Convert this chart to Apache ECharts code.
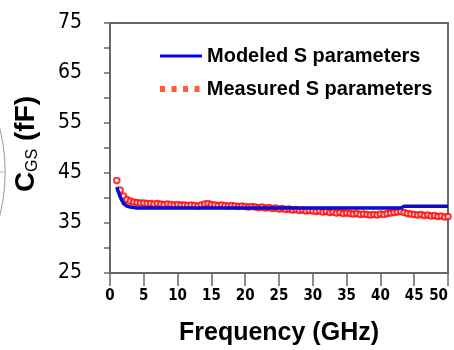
<!DOCTYPE html>
<html>
<head>
<meta charset="utf-8">
<script src="https://cdn.jsdelivr.net/npm/echarts@6/dist/echarts.min.js"></script>
<style>
  html, body { margin: 0; padding: 0; background: #ffffff; }
  #chart { width: 454px; height: 350px; }
</style>
</head>
<body>
<div id="chart"></div>
<script>
// Frequency points (GHz)
const freqGHz = [
  1, 1.5, 2, 2.5, 3, 3.5, 4, 4.5, 5, 5.5, 6, 6.5, 7, 7.5, 8, 8.5, 9, 9.5, 10, 10.5,
  11, 11.5, 12, 12.5, 13, 13.5, 14, 14.5, 15, 15.5, 16, 16.5, 17, 17.5, 18, 18.5, 19, 19.5, 20, 20.5,
  21, 21.5, 22, 22.5, 23, 23.5, 24, 24.5, 25, 25.5, 26, 26.5, 27, 27.5, 28, 28.5, 29, 29.5, 30, 30.5,
  31, 31.5, 32, 32.5, 33, 33.5, 34, 34.5, 35, 35.5, 36, 36.5, 37, 37.5, 38, 38.5, 39, 39.5, 40, 40.5,
  41, 41.5, 42, 42.5, 43, 43.5, 44, 44.5, 45, 45.5, 46, 46.5, 47, 47.5, 48, 48.5, 49, 49.5, 50
];

// Gate-source capacitance from the model (fF)
const modeledCgs = [
  42.2, 40.2, 38.9, 38.4, 38.2, 38.1, 38.0, 38.0, 38.0, 38.0, 38.0, 38.0, 38.0, 38.0, 38.0, 38.0, 38.0, 38.0, 38.0, 38.0,
  38.0, 38.0, 38.0, 38.0, 38.0, 38.0, 38.0, 38.0, 38.0, 38.0, 38.0, 38.0, 38.0, 38.0, 38.0, 38.0, 38.0, 38.0, 38.0, 38.0,
  38.0, 38.0, 38.0, 38.0, 38.0, 38.0, 38.0, 38.0, 38.0, 38.0, 38.0, 38.0, 38.0, 38.0, 38.0, 38.0, 38.0, 38.0, 38.0, 38.0,
  38.0, 38.0, 38.0, 38.0, 38.0, 38.0, 38.0, 38.0, 38.0, 38.0, 38.0, 38.0, 38.0, 38.0, 38.0, 38.0, 38.0, 38.0, 38.0, 38.0,
  38.0, 38.0, 38.0, 38.0, 38.0, 38.35, 38.35, 38.35, 38.35, 38.35, 38.35, 38.35, 38.35, 38.35, 38.35, 38.35, 38.35, 38.35, 38.35
];

// Gate-source capacitance extracted from measured S parameters (fF)
const measuredCgs = [
  43.5, 41.6, 40.4, 39.7, 39.4, 39.2, 39.1, 39.0, 39.0, 38.9, 38.9, 38.8, 38.9, 38.8, 38.7, 38.8, 38.7, 38.6, 38.7, 38.6,
  38.6, 38.5, 38.6, 38.5, 38.4, 38.6, 38.8, 38.9, 38.7, 38.6, 38.5, 38.6, 38.5, 38.4, 38.5, 38.4, 38.3, 38.4, 38.3, 38.2,
  38.3, 38.2, 38.1, 38.2, 38.0, 38.1, 37.9, 38.0, 37.8, 37.9, 37.7, 37.8, 37.6, 37.7, 37.5, 37.6, 37.4, 37.5, 37.4, 37.3,
  37.4, 37.2, 37.3, 37.1, 37.2, 37.0, 37.1, 36.9, 37.0, 36.9, 36.8, 36.9, 36.7, 36.8, 36.7, 36.6, 36.7, 36.6, 36.8, 36.7,
  36.9, 37.0, 37.1, 37.2, 37.3, 37.1, 36.9, 36.8, 36.7, 36.6, 36.7, 36.5, 36.6, 36.4, 36.5, 36.3, 36.4, 36.2, 36.3
];

// Axis ranges and labelled ticks
const xTicks = [0, 5, 10, 15, 20, 25, 30, 35, 40, 45, 50];
const yLabelled = [25, 35, 45, 55, 65, 75];

const seriesNames = ['Modeled S parameters', 'Measured S parameters'];

const modeledPts = freqGHz.map((f, i) => [f, modeledCgs[i]]);
const measuredPts = freqGHz.map((f, i) => [f, measuredCgs[i]]);

const axisGray = '#666666';
const narrow = '"Liberation Sans Narrow", "DejaVu Sans Condensed", Arial, sans-serif';
const sans = '"Liberation Sans", Arial, sans-serif';

const xMin = xTicks[0], xMax = xTicks[xTicks.length - 1];
const yMin = yLabelled[0], yMax = yLabelled[yLabelled.length - 1];

// Top and right edges of the plot box, in axis units
const framePath = [[xMin, yMax], [xMax, yMax], [xMax, yMin]];

const chart = echarts.init(document.getElementById('chart'), null, { renderer: 'canvas' });

chart.setOption({
  backgroundColor: '#ffffff',
  animation: false,
  grid: {
    left: 110, right: 6, top: 23, bottom: 77,
    outerBoundsMode: 'none',
    containLabel: false,
    show: true,
    backgroundColor: 'rgba(0,0,0,0)',
    borderColor: axisGray,
    borderWidth: 2
  },
  legend: [
    {
      data: [{ name: seriesNames[0], icon: 'rect', itemStyle: { color: '#0000ff' } }],
      left: 155, top: 41,
      itemWidth: 42, itemHeight: 3, itemGap: 0,
      textStyle: { fontFamily: sans, fontWeight: 'bold', fontSize: 20, color: '#000', padding: [0, 0, 0, 0] },
      selectedMode: false
    },
    {
      data: [{
        name: seriesNames[1],
        icon: 'path://M0,0h5v6h-5zM11.5,0h5v6h-5zM23,0h5v6h-5zM34.5,0h5v6h-5z',
        itemStyle: { color: '#ff3300', borderWidth: 0 }
      }],
      left: 155, top: 74,
      itemWidth: 40, itemHeight: 6, itemGap: 0,
      textStyle: { fontFamily: sans, fontWeight: 'bold', fontSize: 20, color: '#000', padding: [0, 0, 0, 2] },
      selectedMode: false
    }
  ],
  xAxis: {
    type: 'value',
    min: xMin, max: xMax, interval: 5,
    name: 'Frequency (GHz)',
    nameLocation: 'middle',
    nameGap: 48,
    nameTextStyle: { fontFamily: sans, fontWeight: 'bold', fontSize: 25, color: '#000' },
    axisLine: { show: true, lineStyle: { color: axisGray, width: 2 } },
    axisTick: { show: true, inside: false, length: 13, lineStyle: { color: axisGray, width: 1.5 } },
    axisLabel: {
      margin: 16,
      alignMaxLabel: 'right',
      fontFamily: narrow, fontWeight: 'bold', fontSize: 15, color: '#000',
      formatter: v => (xTicks.indexOf(v) >= 0 ? String(v) : '')
    },
    splitLine: { show: false }
  },
  yAxis: {
    type: 'value',
    min: yMin, max: yMax, interval: 5,
    name: '{c|C}{sub|GS}{c| (fF)}',
    nameLocation: 'middle',
    nameRotate: 90,
    nameGap: 68,
    nameTextStyle: {
      padding: [0, 0, 0, 8],
      rich: {
        c: { fontFamily: sans, fontWeight: 'bold', fontSize: 28, color: '#000', lineHeight: 32 },
        sub: { fontFamily: sans, fontWeight: 'normal', fontSize: 16, color: '#000', lineHeight: 16, padding: [14, 0, 0, 0] }
      }
    },
    axisLine: { show: true, lineStyle: { color: axisGray, width: 2 } },
    axisTick: { show: true, inside: false, length: 6, lineStyle: { color: axisGray, width: 1.5 } },
    axisLabel: {
      margin: 28,
      fontFamily: narrow, fontSize: 21, color: '#000',
      formatter: v => (yLabelled.indexOf(v) >= 0 ? String(v) : '')
    },
    splitLine: { show: false }
  },
  series: [
    {
      // plot box: top and right edges
      name: 'frame',
      type: 'line',
      data: framePath,
      showSymbol: false,
      clip: false,
      silent: true,
      lineStyle: { color: axisGray, width: 2 },
      itemStyle: { color: axisGray },
      emphasis: { disabled: true },
      tooltip: { show: false },
      z: 1
    },
    {
      name: seriesNames[1],
      type: 'scatter',
      data: measuredPts,
      symbol: 'emptyCircle',
      symbolSize: 5.5,
      itemStyle: { color: '#ff0000', borderColor: '#ff0000', borderWidth: 2 },
      z: 2
    },
    {
      name: seriesNames[0],
      type: 'line',
      data: modeledPts,
      showSymbol: false,
      smooth: false,
      lineStyle: { color: '#0a0ad2', width: 3.5 },
      itemStyle: { color: '#0000ff' },
      z: 3
    }
  ],
  graphic: [
    {
      // faint arc at the left margin
      type: 'arc',
      shape: { cx: -182, cy: 172, r: 187, startAngle: -0.3, endAngle: 0.3 },
      style: { stroke: '#9a9a9a', fill: null, lineWidth: 1 },
      silent: true
    },
    {
      type: 'line',
      shape: { x1: 0, y1: 172, x2: 5, y2: 172 },
      style: { stroke: '#b0b0b0', lineWidth: 1 },
      silent: true
    }
  ]
});
</script>
</body>
</html>
